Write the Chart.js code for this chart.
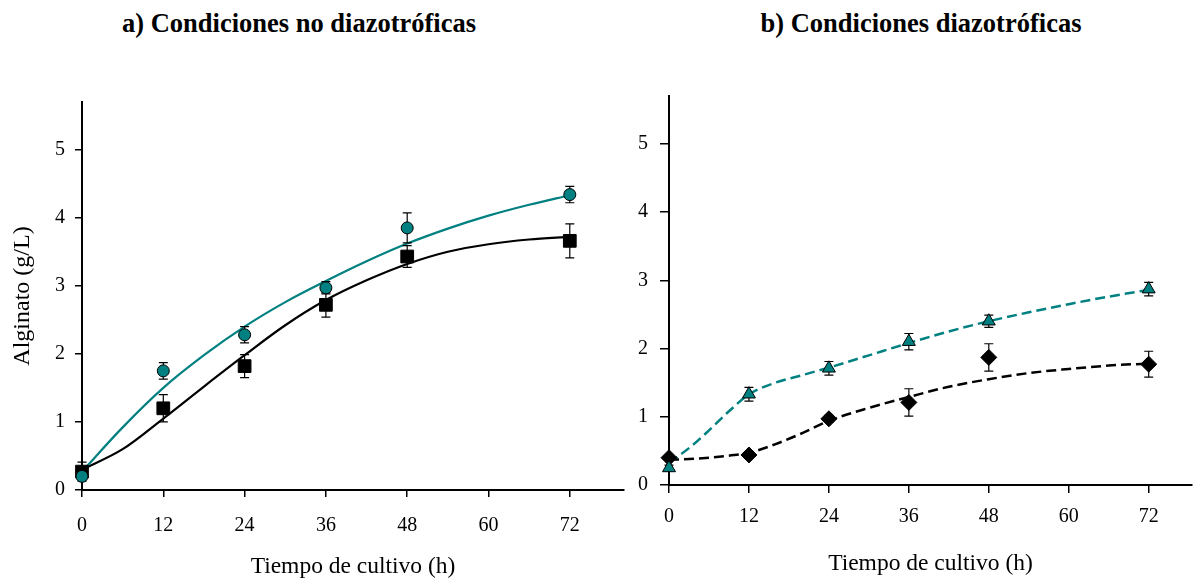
<!DOCTYPE html>
<html lang="es">
<head>
<meta charset="utf-8">
<title>Alginato</title>
<script src="https://cdn.jsdelivr.net/npm/chart.js@4.4.0/dist/chart.umd.min.js"></script>
<style>
  html, body { margin: 0; padding: 0; background: #fff; }
  #lienzo { position: relative; width: 1201px; height: 581px; overflow: hidden; font-family: 'Liberation Serif', 'Times New Roman', serif; }
  canvas { position: absolute; top: 0; }
  #graf-a { left: 0; }
  #graf-b { left: 600px; }
  .titulo { position: absolute; top: 8px; font-weight: bold; font-size: 26.5px; line-height: 30px; white-space: nowrap; transform: translateX(-50%); color: #000; }
</style>
</head>
<body>
<div id="lienzo">
  <div class="titulo" style="left:299px">a) Condiciones no diazotróficas</div>
  <div class="titulo" style="left:921px">b) Condiciones diazotróficas</div>
  <canvas id="graf-a" width="640" height="581"></canvas>
  <canvas id="graf-b" width="601" height="581"></canvas>
</div>
<script>
// =====================
// Datos
// =====================
const horas = [0, 12, 24, 36, 48, 72];

// a) condiciones no diazotróficas
const circulosA = [0.20, 1.75, 2.28, 2.97, 3.85, 4.34];
const errCirculosA = [0.05, 0.12, 0.12, 0.09, 0.22, 0.12];
const cuadradosA = [0.27, 1.20, 1.82, 2.72, 3.43, 3.66];
const errCuadradosA = [0.14, 0.20, 0.17, 0.18, 0.16, 0.25];
const horasAjusteA = [0, 6, 12, 18, 24, 30, 36, 42, 48, 54, 60, 66, 72];
const ajusteCirculosA = [0.27, 0.92, 1.50, 1.98, 2.40, 2.76, 3.07, 3.36, 3.62, 3.84, 4.03, 4.19, 4.33];
const ajusteCuadradosA = [0.30, 0.60, 1.05, 1.52, 1.98, 2.42, 2.79, 3.08, 3.32, 3.50, 3.61, 3.68, 3.72];

// b) condiciones diazotróficas
const triangulosB = [0.25, 1.33, 1.71, 2.10, 2.40, 2.87];
const errTriangulosB = [0.04, 0.10, 0.10, 0.12, 0.09, 0.10];
const rombosB = [0.40, 0.44, 0.97, 1.21, 1.87, 1.77];
const errRombosB = [0.04, 0.04, 0.05, 0.20, 0.20, 0.19];
const horasAjusteB = [0, 3, 6, 9, 12, 16, 20, 24, 30, 36, 42, 48, 54, 60, 66, 72];
const ajusteTriangulosB = [0.33, 0.54, 0.80, 1.08, 1.33, 1.50, 1.61, 1.72, 1.90, 2.08, 2.25, 2.40, 2.53, 2.65, 2.76, 2.86];
const ajusteRombosB = [0.37, 0.38, 0.40, 0.43, 0.47, 0.60, 0.76, 0.94, 1.13, 1.29, 1.44, 1.55, 1.64, 1.70, 1.75, 1.78];

const VERDE = '#008080';
const FUENTE = "'Liberation Serif', 'Times New Roman', serif";

const pares = (xs, ys) => xs.map((x, i) => ({ x, y: ys[i] }));

// barras de error, dibujadas justo antes de los marcadores
const barrasError = {
  id: 'barrasError',
  beforeDatasetDraw(chart, args) {
    const ds = chart.data.datasets[args.index];
    if (!ds.errores) return;
    const { ctx, scales: { x, y } } = chart;
    ctx.save();
    ctx.strokeStyle = '#000';
    ctx.lineWidth = 1.2;
    ds.data.forEach((p, i) => {
      const e = ds.errores[i];
      const px = x.getPixelForValue(p.x);
      const y1 = y.getPixelForValue(p.y + e);
      const y2 = y.getPixelForValue(p.y - e);
      ctx.beginPath();
      ctx.moveTo(px, y1); ctx.lineTo(px, y2);
      ctx.moveTo(px - 4.5, y1); ctx.lineTo(px + 4.5, y1);
      ctx.moveTo(px - 4.5, y2); ctx.lineTo(px + 4.5, y2);
      ctx.stroke();
    });
    ctx.restore();
  }
};

function curva(xs, ys, color, dash) {
  return {
    data: pares(xs, ys),
    borderColor: color,
    borderWidth: dash ? 2.5 : 2.2,
    borderDash: dash ? [10, 5] : [],
    pointRadius: 0,
    cubicInterpolationMode: 'monotone',
    fill: false,
    order: 2,
    clip: false,
  };
}

function marcadores(ys, errs, estilo, radio, relleno) {
  return {
    data: pares(horas, ys),
    errores: errs,
    showLine: false,
    pointStyle: estilo,
    pointRadius: radio,
    pointBackgroundColor: relleno,
    pointBorderColor: '#000',
    pointBorderWidth: 1,
    order: 1,
    clip: false,
  };
}

function opciones(c) {
  return {
    responsive: false,
    animation: false,
    events: [],
    layout: { padding: { left: 0, top: c.arriba, right: c.derecha, bottom: 0 } },
    plugins: { legend: { display: false }, tooltip: { enabled: false } },
    scales: {
      x: {
        type: 'linear', min: 0, max: c.maxX,
        ticks: { stepSize: 12, includeBounds: false, color: '#000', maxRotation: 0,
                 font: { family: FUENTE, size: 20 }, padding: c.padX },
        grid: { drawOnChartArea: false, tickLength: c.tickX, color: '#000', lineWidth: 1.5 },
        border: { color: '#000', width: 2 },
        title: { display: true, text: 'Tiempo de cultivo (h)', color: '#000',
                 font: { family: FUENTE, size: 23.5 }, padding: { top: 0, bottom: c.padTituloX } },
        afterFit(s) { s.height = c.altoX; }
      },
      y: {
        min: 0, max: 5.7,
        ticks: { stepSize: 1, includeBounds: false, color: '#000',
                 font: { family: FUENTE, size: 20 }, padding: c.padY },
        grid: { drawOnChartArea: false, tickLength: c.tickY, color: '#000', lineWidth: 1.5 },
        border: { color: '#000', width: 2 },
        title: { display: c.tituloY, text: 'Alginato (g/L)', color: '#000',
                 font: { family: FUENTE, size: 24 }, padding: { top: 8, bottom: 0 } },
        afterFit(s) { s.width = c.anchoY; }
      }
    }
  };
}

// =====================
// a) no diazotróficas
// =====================
new Chart(document.getElementById('graf-a'), {
  type: 'line',
  data: {
    datasets: [
      curva(horasAjusteA, ajusteCirculosA, VERDE, false),
      curva(horasAjusteA, ajusteCuadradosA, '#000', false),
      marcadores(circulosA, errCirculosA, 'circle', 6, VERDE),
      marcadores(cuadradosA, errCuadradosA, 'rect', 9, '#000'),
    ]
  },
  options: opciones({ arriba: 102, derecha: 16, maxX: 80, anchoY: 82, altoX: 91,
                      padX: 17, tickX: 7, padY: 10, tickY: 7, padTituloX: 0, tituloY: true }),
  plugins: [barrasError]
});

// =====================
// b) diazotróficas
// =====================
new Chart(document.getElementById('graf-b'), {
  type: 'line',
  data: {
    datasets: [
      curva(horasAjusteB, ajusteTriangulosB, VERDE, true),
      curva(horasAjusteB, ajusteRombosB, '#000', true),
      marcadores(triangulosB, errTriangulosB, 'triangle', 7.5, VERDE),
      marcadores(rombosB, errRombosB, 'rectRot', 8, '#000'),
    ]
  },
  options: opciones({ arriba: 96, derecha: 0, maxX: 78.5, anchoY: 69, altoX: 96,
                      padX: 12, tickX: 8, padY: 12, tickY: 9, padTituloX: 3, tituloY: false }),
  plugins: [barrasError]
});
</script>
</body>
</html>
